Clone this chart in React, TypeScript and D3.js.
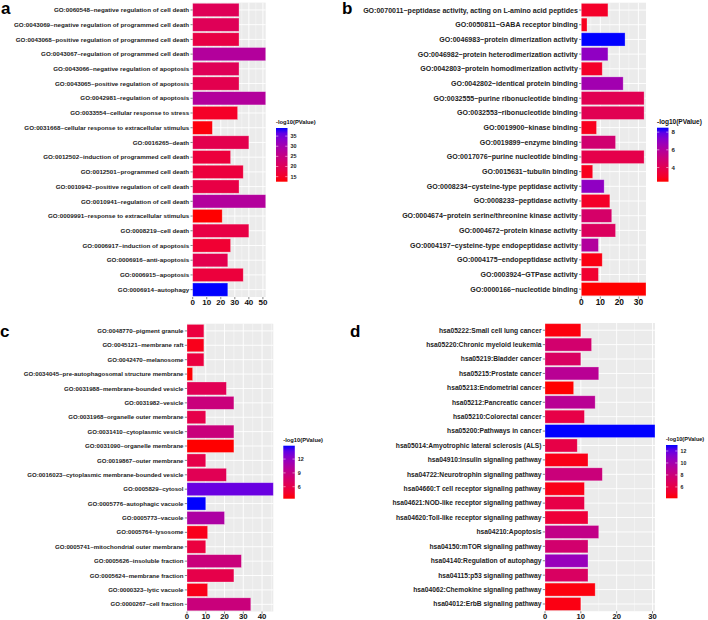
import { useEffect } from "react";
import * as d3 from "d3";

// panel a: biological process
const aTerms = [
  "GO:0060548~negative regulation of cell death",
  "GO:0043069~negative regulation of programmed cell death",
  "GO:0043068~positive regulation of programmed cell death",
  "GO:0043067~regulation of programmed cell death",
  "GO:0043066~negative regulation of apoptosis",
  "GO:0043065~positive regulation of apoptosis",
  "GO:0042981~regulation of apoptosis",
  "GO:0033554~cellular response to stress",
  "GO:0031668~cellular response to extracellular stimulus",
  "GO:0016265~death",
  "GO:0012502~induction of programmed cell death",
  "GO:0012501~programmed cell death",
  "GO:0010942~positive regulation of cell death",
  "GO:0010941~regulation of cell death",
  "GO:0009991~response to extracellular stimulus",
  "GO:0008219~cell death",
  "GO:0006917~induction of apoptosis",
  "GO:0006916~anti-apoptosis",
  "GO:0006915~apoptosis",
  "GO:0006914~autophagy",
];
const aCount = [33, 33, 33, 52, 33, 33, 52, 32, 14, 40, 27, 36, 33, 52, 21, 40, 27, 25, 36, 25];
const aLogP = [20, 20, 18, 28, 20, 19, 28, 15, 13, 19, 17, 17, 18, 28, 12.5, 18, 16, 19, 17, 39];
const aTicks = [0, 10, 20, 30, 40, 50];
const aBreaks = [15, 20, 25, 30, 35];

// panel b: molecular function
const bTerms = [
  "GO:0070011~peptidase activity, acting on L-amino acid peptides",
  "GO:0050811~GABA receptor binding",
  "GO:0046983~protein dimerization activity",
  "GO:0046982~protein heterodimerization activity",
  "GO:0042803~protein homodimerization activity",
  "GO:0042802~identical protein binding",
  "GO:0032555~purine ribonucleotide binding",
  "GO:0032553~ribonucleotide binding",
  "GO:0019900~kinase binding",
  "GO:0019899~enzyme binding",
  "GO:0017076~purine nucleotide binding",
  "GO:0015631~tubulin binding",
  "GO:0008234~cysteine-type peptidase activity",
  "GO:0008233~peptidase activity",
  "GO:0004674~protein serine/threonine kinase activity",
  "GO:0004672~protein kinase activity",
  "GO:0004197~cysteine-type endopeptidase activity",
  "GO:0004175~endopeptidase activity",
  "GO:0003924~GTPase activity",
  "GO:0000166~nucleotide binding",
];
const bCount = [14, 3, 23, 14, 11, 22, 33, 33, 8, 18, 33, 6, 12, 15, 16, 18, 9, 11, 9, 34];
const bLogP = [3, 2.8, 8.5, 7, 3, 6.5, 4, 4, 2.8, 4.8, 3.8, 2.8, 7, 3, 4.6, 4.3, 6, 2.6, 3.2, 2.4];
const bTicks = [0, 10, 20, 30];
const bBreaks = [4, 6, 8];

// panel c: cellular component
const cTerms = [
  "GO:0048770~pigment granule",
  "GO:0045121~membrane raft",
  "GO:0042470~melanosome",
  "GO:0034045~pre-autophagosomal structure membrane",
  "GO:0031988~membrane-bounded vesicle",
  "GO:0031982~vesicle",
  "GO:0031968~organelle outer membrane",
  "GO:0031410~cytoplasmic vesicle",
  "GO:0031090~organelle membrane",
  "GO:0019867~outer membrane",
  "GO:0016023~cytoplasmic membrane-bounded vesicle",
  "GO:0005829~cytosol",
  "GO:0005776~autophagic vacuole",
  "GO:0005773~vacuole",
  "GO:0005764~lysosome",
  "GO:0005741~mitochondrial outer membrane",
  "GO:0005626~insoluble fraction",
  "GO:0005624~membrane fraction",
  "GO:0000323~lytic vacuole",
  "GO:0000267~cell fraction",
];
const cCount = [9, 9, 9, 3, 21, 25, 10, 25, 25, 10, 21, 46, 10, 20, 11, 10, 29, 25, 11, 34];
const cLogP = [5.5, 4, 5.5, 3.5, 6.5, 8.5, 6, 8.5, 3.4, 6, 6.5, 13.5, 14.9, 10.5, 4, 5.5, 8.5, 6, 4, 8.5];
const cTicks = [0, 10, 20, 30, 40];
const cBreaks = [6, 9, 12];

// panel d: KEGG pathways
const dTerms = [
  "hsa05222:Small cell lung cancer",
  "hsa05220:Chronic myeloid leukemia",
  "hsa05219:Bladder cancer",
  "hsa05215:Prostate cancer",
  "hsa05213:Endometrial cancer",
  "hsa05212:Pancreatic cancer",
  "hsa05210:Colorectal cancer",
  "hsa05200:Pathways in cancer",
  "hsa05014:Amyotrophic lateral sclerosis (ALS)",
  "hsa04910:Insulin signaling pathway",
  "hsa04722:Neurotrophin signaling pathway",
  "hsa04660:T cell receptor signaling pathway",
  "hsa04621:NOD-like receptor signaling pathway",
  "hsa04620:Toll-like receptor signaling pathway",
  "hsa04210:Apoptosis",
  "hsa04150:mTOR signaling pathway",
  "hsa04140:Regulation of autophagy",
  "hsa04115:p53 signaling pathway",
  "hsa04062:Chemokine signaling pathway",
  "hsa04012:ErbB signaling pathway",
];
const dCount = [10, 13, 10, 15, 8, 14, 11, 30.7, 9, 12, 16, 11, 11, 12, 15, 12, 12, 12, 14, 10];
const dLogP = [4.3, 7.5, 7, 9, 4.1, 9, 6, 13, 6, 4.5, 8, 4.5, 6, 5.5, 8.5, 7.5, 10.5, 7, 4.3, 4.4];
const dTicks = [0, 10, 20, 30];
const dBreaks = [6, 8, 10, 12];

const FONT = "'Liberation Sans', Arial, sans-serif";
const ramp = d3.interpolateLab("red", "blue");

type Box = { x0: number; x1: number; y0: number; y1: number };
type Leg = { x: number; y: number; h: number };

type PanelProps = {
  id: string;
  tag: string;
  tagX: number;
  tagY: number;
  terms: string[];
  counts: number[];
  logp: number[];
  ticks: number[];
  breaks: number[];
  box: Box;
  leg: Leg;
  labelSize: number;
  tickSize: number;
  legSize: number;
};

function Panel(p: PanelProps) {
  const { id, tag, tagX, tagY, terms, counts, logp, ticks, breaks, box, leg } = p;
  const x = d3
    .scaleLinear()
    .domain([0, d3.max(counts) as number])
    .range([box.x0, box.x1]);
  const y = d3
    .scaleBand<string>()
    .domain(terms)
    .range([box.y0, box.y1])
    .paddingInner(0.1)
    .paddingOuter(0.05);
  const ext = d3.extent(logp) as [number, number];
  const col = d3.scaleLinear().domain(ext).range([0, 1]);
  const legY = d3.scaleLinear().domain(ext).range([leg.y + leg.h, leg.y]);
  const legW = 11.5;

  const d1 = x.domain()[1];
  const minor = ticks.map((t) => t + 5).filter((m) => m < d1);
  const stops = d3.range(0, 1.0001, 0.1);
  const mid = (t: string) => (y(t) as number) + y.bandwidth() / 2;

  return (
    <g>
      <text x={tagX} y={tagY} fontFamily={FONT} fontWeight="bold" fontSize={17} fill="#000">
        {tag}
      </text>
      <rect x={box.x0} y={box.y0} width={box.x1 - box.x0} height={box.y1 - box.y0} fill="#EBEBEB" />
      {minor.map((m) => (
        <line key={"mi" + m} x1={x(m)} x2={x(m)} y1={box.y0} y2={box.y1} stroke="#fff" strokeWidth={0.4} />
      ))}
      {ticks.map((t) => (
        <line key={"ma" + t} x1={x(t)} x2={x(t)} y1={box.y0} y2={box.y1} stroke="#fff" strokeWidth={0.9} />
      ))}
      {terms.map((t) => (
        <line key={"hg" + t} x1={box.x0} x2={box.x1} y1={mid(t)} y2={mid(t)} stroke="#fff" strokeWidth={0.9} />
      ))}
      {terms.map((t, i) => (
        <rect
          key={"b" + t}
          x={x(0)}
          y={y(t) as number}
          width={x(counts[i]) - x(0)}
          height={y.bandwidth()}
          fill={ramp(col(logp[i]))}
          stroke="#fff"
          strokeOpacity={0.4}
          strokeWidth={0.7}
        />
      ))}
      {terms.map((t) => (
        <g key={"yl" + t}>
          <line x1={box.x0 - 2.2} x2={box.x0} y1={mid(t)} y2={mid(t)} stroke="#333" strokeWidth={0.6} />
          <text
            x={box.x0 - 3.5}
            y={mid(t)}
            dy="0.35em"
            textAnchor="end"
            fontFamily={FONT}
            fontWeight="bold"
            fontSize={p.labelSize}
            fill="#222"
          >
            {t}
          </text>
        </g>
      ))}
      {ticks.map((t) => (
        <g key={"xt" + t}>
          <line x1={x(t)} x2={x(t)} y1={box.y1} y2={box.y1 + 2.2} stroke="#333" strokeWidth={0.6} />
          <text
            x={x(t)}
            y={box.y1 + 2 + p.tickSize * 0.72}
            textAnchor="middle"
            fontFamily={FONT}
            fontWeight="bold"
            fontSize={p.tickSize}
            fill="#111"
          >
            {t}
          </text>
        </g>
      ))}
      <defs>
        <linearGradient id={"grad" + id} x1="0" y1="1" x2="0" y2="0">
          {stops.map((s) => (
            <stop key={s} offset={s} stopColor={ramp(s)} />
          ))}
        </linearGradient>
      </defs>
      <text x={leg.x} y={leg.y - 4} fontFamily={FONT} fontWeight="bold" fontSize={p.legSize * 1.07} fill="#111">
        -log10(PValue)
      </text>
      <rect x={leg.x} y={leg.y} width={legW} height={leg.h} fill={`url(#grad${id})`} />
      {breaks.map((b) => (
        <g key={"lb" + b}>
          <line x1={leg.x} x2={leg.x + 2.3} y1={legY(b)} y2={legY(b)} stroke="#fff" strokeWidth={0.5} />
          <line x1={leg.x + legW - 2.3} x2={leg.x + legW} y1={legY(b)} y2={legY(b)} stroke="#fff" strokeWidth={0.5} />
          <text
            x={leg.x + legW + 3}
            y={legY(b)}
            dy="0.35em"
            fontFamily={FONT}
            fontWeight="bold"
            fontSize={p.legSize}
            fill="#222"
          >
            {b}
          </text>
        </g>
      ))}
    </g>
  );
}

export default function App() {
  useEffect(() => {
    document.body.style.margin = "0";
  }, []);
  return (
    <svg width={708} height={620} style={{ display: "block", background: "#fff" }}>
      <Panel
        id="a"
        tag="a"
        tagX={1}
        tagY={14}
        terms={aTerms}
        counts={aCount}
        logp={aLogP}
        ticks={aTicks}
        breaks={aBreaks}
        box={{ x0: 192.7, x1: 265.7, y0: 2.6, y1: 297 }}
        leg={{ x: 276, y: 128, h: 53.7 }}
        labelSize={6.25}
        tickSize={8}
        legSize={5.4}
      />
      <Panel
        id="b"
        tag="b"
        tagX={342}
        tagY={14}
        terms={bTerms}
        counts={bCount}
        logp={bLogP}
        ticks={bTicks}
        breaks={bBreaks}
        box={{ x0: 581.3, x1: 646, y0: 2.7, y1: 296.5 }}
        leg={{ x: 657, y: 127.7, h: 54 }}
        labelSize={7.05}
        tickSize={8.4}
        legSize={6.1}
      />
      <Panel
        id="c"
        tag="c"
        tagX={0}
        tagY={337}
        terms={cTerms}
        counts={cCount}
        logp={cLogP}
        ticks={cTicks}
        breaks={cBreaks}
        box={{ x0: 187, x1: 273.3, y0: 323.7, y1: 611.5 }}
        leg={{ x: 283.3, y: 445.7, h: 53 }}
        labelSize={6.1}
        tickSize={7.8}
        legSize={5.4}
      />
      <Panel
        id="d"
        tag="d"
        tagX={350}
        tagY={337}
        terms={dTerms}
        counts={dCount}
        logp={dLogP}
        ticks={dTicks}
        breaks={dBreaks}
        box={{ x0: 545, x1: 655, y0: 323, y1: 611.2 }}
        leg={{ x: 666, y: 445, h: 53.3 }}
        labelSize={6.7}
        tickSize={7.6}
        legSize={5.2}
      />
    </svg>
  );
}
